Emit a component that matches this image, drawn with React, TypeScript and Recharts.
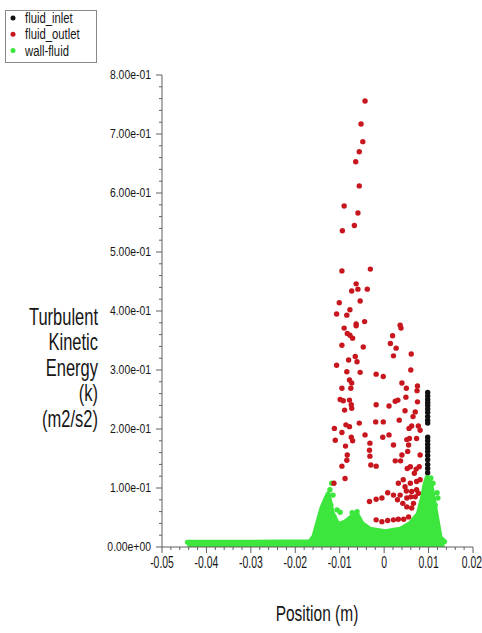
import React from "react";
import { ComposedChart, Area, Scatter, XAxis, YAxis, Legend } from "recharts";

const FONT = "'Liberation Sans', Arial, sans-serif";
const RED = "#c8161e";
const GREEN = "#3de63d";
const BLACK = "#111111";
const AXIS = "#5f5f5f";

const xMajorTicks = [-0.05, -0.04, -0.03, -0.02, -0.01, 0, 0.01, 0.02];
const xTickLabels = ["-0.05", "-0.04", "-0.03", "-0.02", "-0.01", "0", "0.01", "0.02"];
const yMajorTicks = [0, 0.1, 0.2, 0.3, 0.4, 0.5, 0.6, 0.7, 0.8];
const yTickLabels = [
  "0.00e+00", "1.00e-01", "2.00e-01", "3.00e-01", "4.00e-01",
  "5.00e-01", "6.00e-01", "7.00e-01", "8.00e-01",
];
const yTitleLines = ["Turbulent", "Kinetic", "Energy", "(k)", "(m2/s2)"];

// fluid_inlet: single column of points at x ~ 0.0098
const fluidInletX = 0.0098;
const fluidInletK = [
  0.262, 0.256, 0.25, 0.245, 0.24, 0.234, 0.228, 0.221, 0.215, 0.21,
  0.186, 0.18, 0.174, 0.168, 0.162, 0.155, 0.148, 0.14, 0.133, 0.126,
];

// fluid_outlet points [position, k]
const fluidOutlet: [number, number][] = [
  [-0.0043, 0.756], [-0.0052, 0.717], [-0.0048, 0.687], [-0.0056, 0.67], [-0.0064, 0.653],
  [-0.0056, 0.612], [-0.009, 0.578], [-0.0059, 0.566], [-0.0067, 0.545], [-0.0094, 0.536],
  [-0.0095, 0.468], [-0.0031, 0.471], [-0.0063, 0.446], [-0.0073, 0.434], [-0.0059, 0.437],
  [-0.0038, 0.437], [-0.0054, 0.417], [-0.0101, 0.414], [-0.0077, 0.402], [-0.0107, 0.395],
  [-0.0084, 0.393], [-0.0063, 0.378], [-0.0044, 0.382], [0.0036, 0.376],
  [-0.009, 0.371], [-0.0063, 0.375], [-0.0077, 0.359], [-0.0083, 0.362], [-0.0071, 0.354],
  [-0.0095, 0.342], [-0.0047, 0.339], [0.0019, 0.358], [0.0038, 0.371], [0.0014, 0.345],
  [0.0027, 0.337], [0.0021, 0.324], [0.0061, 0.327], [0.006, 0.3], [-0.0107, 0.308],
  [-0.008, 0.317], [-0.0065, 0.323], [-0.0061, 0.314], [-0.0054, 0.296], [-0.0084, 0.297],
  [-0.0078, 0.283], [-0.0073, 0.278], [-0.0095, 0.269], [-0.0075, 0.269], [-0.0018, 0.293],
  [-0.0002, 0.289], [0.004, 0.278], [0.005, 0.269], [0.0075, 0.273], [0.0074, 0.265],
  [-0.0099, 0.25], [-0.0078, 0.249], [-0.0092, 0.248], [-0.0074, 0.241], [-0.0089, 0.232],
  [-0.0073, 0.235], [-0.0018, 0.241], [0.0011, 0.239], [0.0025, 0.247], [0.0031, 0.249],
  [0.0049, 0.254], [0.0075, 0.246], [0.0047, 0.231], [0.007, 0.229], [0.0065, 0.221],
  [0.0034, 0.215], [-0.0019, 0.212], [-0.0002, 0.212], [-0.0056, 0.21], [-0.0086, 0.207],
  [-0.0078, 0.204], [-0.0112, 0.201], [-0.0095, 0.194], [-0.0074, 0.186], [-0.0043, 0.19],
  [-0.0003, 0.186], [0.0011, 0.19], [0.0056, 0.201], [0.0062, 0.205], [0.0077, 0.205],
  [0.0081, 0.198], [0.0057, 0.184], [0.0073, 0.184], [0.0051, 0.182], [-0.011, 0.181],
  [-0.0087, 0.171], [-0.0071, 0.18], [-0.0032, 0.176], [-0.0033, 0.164], [-0.0083, 0.156],
  [-0.0084, 0.147], [-0.0095, 0.137], [-0.0088, 0.116], [-0.0113, 0.108], [-0.003, 0.139],
  [-0.0018, 0.137], [-0.0032, 0.154], [0.0025, 0.146], [0.0037, 0.146], [0.004, 0.156],
  [0.0055, 0.173], [0.0053, 0.162], [0.0021, 0.173], [0.0081, 0.156], [0.0072, 0.132],
  [0.0068, 0.125], [0.0059, 0.136], [0.0052, 0.133], [0.0079, 0.136], [0.0032, 0.108],
  [0.0043, 0.114], [0.0047, 0.102], [0.0059, 0.108], [0.0073, 0.111], [0.0081, 0.114],
  [0.005, 0.095], [0.0062, 0.094], [0.0073, 0.097], [0.0036, 0.088], [0.0051, 0.083],
  [0.006, 0.085], [0.007, 0.085], [0.0077, 0.091], [0.0066, 0.074], [0.0051, 0.068],
  [0.0062, 0.066], [-0.0033, 0.077], [-0.0018, 0.081], [-0.0005, 0.083], [0.0008, 0.092],
  [0.0021, 0.088], [0.003, 0.08], [0.0042, 0.074], [-0.0018, 0.046], [-0.0005, 0.043],
  [0.0008, 0.045], [0.0021, 0.046], [0.0032, 0.047], [0.0044, 0.047], [0.0055, 0.051],
];

// wall-fluid: upper edge of the dense band of points
const wallFluidEdge: [number, number][] = [
  [-0.0443, 0.008], [-0.03, 0.008], [-0.0167, 0.009], [-0.0158, 0.018], [-0.0149, 0.042],
  [-0.014, 0.066], [-0.0131, 0.082], [-0.0126, 0.09], [-0.0117, 0.058], [-0.0104, 0.038],
  [-0.0088, 0.042], [-0.0072, 0.052], [-0.0061, 0.055], [-0.005, 0.04], [-0.0032, 0.03],
  [0.0002, 0.026], [0.0036, 0.03], [0.0059, 0.04], [0.0077, 0.056], [0.0086, 0.082],
  [0.0092, 0.106], [0.0097, 0.118], [0.0104, 0.11], [0.011, 0.085], [0.0119, 0.046],
  [0.0126, 0.016], [0.0136, 0.009],
];

// wall-fluid: looser points standing above the band
const wallFluidLoose: [number, number][] = [
  [-0.0118, 0.108], [-0.0122, 0.097], [-0.0115, 0.088], [-0.012, 0.071], [-0.0106, 0.063],
  [-0.0099, 0.059], [-0.0113, 0.051], [-0.0072, 0.058], [-0.0061, 0.06], [0.0105, 0.117],
  [0.011, 0.108], [0.0119, 0.092], [0.0121, 0.083], [0.0115, 0.071], [0.0104, 0.1],
];

const legendItems = [
  { name: "fluid_inlet", color: BLACK },
  { name: "fluid_outlet", color: RED },
  { name: "wall-fluid", color: GREEN },
];

function withMinor(majors: number[], parts: number) {
  const out: number[] = [];
  majors.forEach((v, i) => {
    out.push(v);
    if (i < majors.length - 1) {
      const step = (majors[i + 1] - v) / parts;
      for (let k = 1; k < parts; k++) out.push(v + step * k);
    }
  });
  return out;
}

const xTicks = withMinor(xMajorTicks, 5);
const yTicks = withMinor(yMajorTicks, 5);

const majorIndex = (list: number[], v: number) =>
  list.findIndex((m) => Math.abs(m - v) < 1e-9);

// Fluent-style lettering: narrow glyphs stretched vertically around their baseline
function TallText({ x, y, size, sy, anchor = "start", children }: any) {
  return (
    <text x={x} y={y} fontSize={size} fontFamily={FONT} fill="#161616" textAnchor={anchor}
      transform={`translate(${x} ${y}) scale(1 ${sy}) translate(${-x} ${-y})`}>
      {children}
    </text>
  );
}

function YTick(props: any) {
  const { x, y, payload } = props;
  const i = majorIndex(yMajorTicks, payload.value);
  return (
    <g>
      <line x1={x} x2={x - (i >= 0 ? 6 : 3)} y1={y} y2={y} stroke={AXIS} />
      {i >= 0 && (
        <TallText x={x - 11} y={y + 4.5} size={10.4} sy={1.28} anchor="end">
          {yTickLabels[i]}
        </TallText>
      )}
    </g>
  );
}

function XTick(props: any) {
  const { x, y, payload } = props;
  const i = majorIndex(xMajorTicks, payload.value);
  const last = i === xMajorTicks.length - 1;
  return (
    <g>
      <line x1={x} x2={x} y1={y} y2={y + (i >= 0 ? 6 : 3)} stroke={AXIS} />
      {i >= 0 && (
        <TallText x={last ? x + 9 : x} y={y + 21.5} size={10.4} sy={1.5}
          anchor={last ? "end" : "middle"}>
          {xTickLabels[i]}
        </TallText>
      )}
    </g>
  );
}

function Dot(color: string) {
  return (p: any) => <circle cx={p.cx} cy={p.cy} r={2.7} fill={color} />;
}

function YTitle() {
  return (
    <g>
      {yTitleLines.map((line, i) => (
        <TallText key={line} x={98} y={325 + i * 25.5} size={16.5} sy={1.4} anchor="end">
          {line}
        </TallText>
      ))}
    </g>
  );
}

function XTitle() {
  return (
    <TallText x={317} y={621} size={15.5} sy={1.4} anchor="middle">
      Position (m)
    </TallText>
  );
}

function LegendBox() {
  return (
    <svg width={100} height={66}>
      <rect x={5.5} y={10.5} width={91} height={52} fill="#fff" stroke="#888" />
      {legendItems.map((it, i) => (
        <g key={it.name}>
          <circle cx={13} cy={18 + i * 16.3} r={2.5} fill={it.color} />
          <TallText x={25} y={23 + i * 16.3} size={11.3} sy={1.3}>
            {it.name}
          </TallText>
        </g>
      ))}
    </svg>
  );
}

export default function App() {
  const edge = wallFluidEdge.map(([x, y]) => ({ x, y }));
  const loose = wallFluidLoose.map(([x, y]) => ({ x, y }));
  const outlet = fluidOutlet.map(([x, y]) => ({ x, y }));
  const inlet = fluidInletK.map((y) => ({ x: fluidInletX, y }));

  return (
    <div style={{ position: "absolute", left: 0, top: 0, width: 482, height: 633, background: "#fff" }}>
      <ComposedChart width={482} height={633} data={edge}
        margin={{ top: 75, right: 9, bottom: 0, left: 0 }}>
        <XAxis type="number" dataKey="x" domain={[-0.05, 0.02]} ticks={xTicks} interval={0}
          allowDataOverflow tickSize={0} tickMargin={0} tickLine={false} height={86}
          axisLine={{ stroke: AXIS }} tick={<XTick />} label={<XTitle />} />
        <YAxis type="number" dataKey="y" domain={[0, 0.8]} ticks={yTicks} interval={0}
          allowDataOverflow tickSize={0} tickMargin={0} tickLine={false} width={162}
          axisLine={{ stroke: AXIS }} tick={<YTick />} label={<YTitle />} />
        <Legend layout="vertical" align="center" verticalAlign="middle"
          wrapperStyle={{ left: 0, top: 0, width: 100, height: 66 }} content={<LegendBox />} />
        <Area type="linear" dataKey="y" baseValue={0} fill={GREEN} fillOpacity={1}
          stroke={GREEN} strokeWidth={5} strokeLinejoin="round" strokeLinecap="round"
          isAnimationActive={false} legendType="none" />
        <Scatter name="wall-fluid loose" data={loose} shape={Dot(GREEN)} isAnimationActive={false} />
        <Scatter name="fluid_outlet" data={outlet} shape={Dot(RED)} isAnimationActive={false} />
        <Scatter name="fluid_inlet" data={inlet} shape={Dot(BLACK)} isAnimationActive={false} />
      </ComposedChart>
    </div>
  );
}
